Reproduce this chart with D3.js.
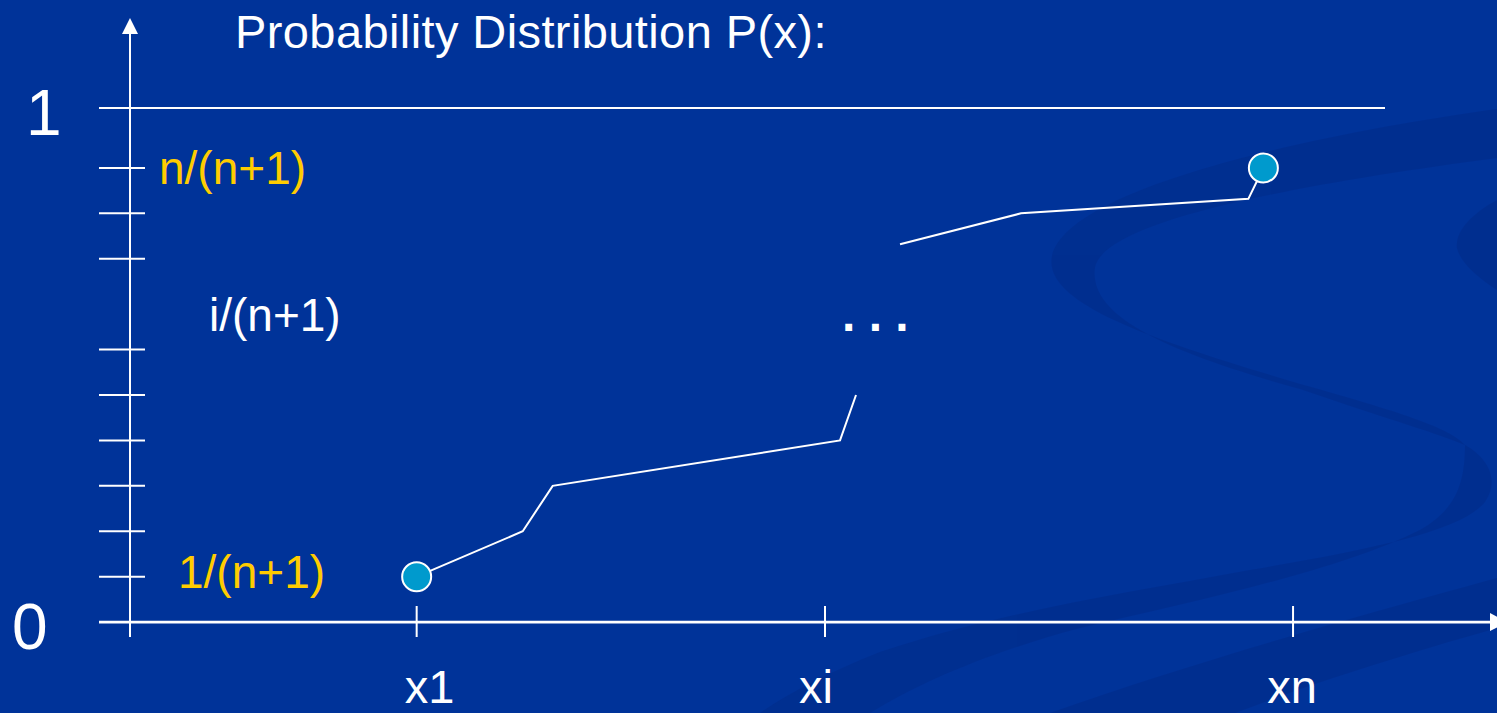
<!DOCTYPE html>
<html>
<head>
<meta charset="utf-8">
<script src="https://cdn.jsdelivr.net/npm/d3@7/dist/d3.min.js"></script>
<style>
  html, body { margin: 0; padding: 0; background: #003399; overflow: hidden; }
  svg { display: block; }
  text { font-family: "Liberation Sans", Arial, sans-serif; }
</style>
</head>
<body>
<svg id="chart" width="1497" height="713"></svg>
<script>
// Levels are measured in steps of 1/(n+1); the "1" line sits a little above the last step.
const yTickLevels = [1, 2, 3, 4, 5, 6, 8, 9, 10];
const oneLevel = 11.32;

// Sample positions along the x axis (arbitrary units)
const xTickNames  = ["x1", "xi", "xn"];
const xTickValues = [2.097, 5.084, 8.508];
const xLabelShift = [13, -9, -1];

// Empirical CDF sketch: lower run of the curve and the upper run
const lowerX = [2.097, 2.873, 3.092, 5.194, 5.311];
const lowerP = [1, 2, 3, 4, 5];
const upperX = [5.633, 6.518, 8.181, 8.291];
const upperP = [8.32, 9, 9.32, 10];

// Labels on the y side
const yLabels = [
  { text: "n/(n+1)", level: 10, color: "#FFCC00", x: 159, dy: 16 },
  { text: "i/(n+1)", level: 7,  color: "#FFFFFF", x: 209, dy: 27 },
  { text: "1/(n+1)", level: 1,  color: "#FFCC00", x: 178, dy: 11 }
];
const titleText = "Probability Distribution P(x):";

const svg = d3.select("#chart");

const x = d3.scaleLinear().domain([0, 10]).range([130, 1497]);
const y = d3.scaleLinear().domain([0, oneLevel]).range([622.1, 108]);

// Background ribbon decoration
const deco = svg.append("g").attr("fill", "#002B87").attr("opacity", 0.5);
deco.append("path").attr("d",
  "M1497,109 C1330,132 1068,185 1052,256 C1042,305 1160,342 1300,384 " +
  "C1400,412 1450,428 1465,445 C1440,434 1390,420 1300,389 " +
  "C1160,350 1088,315 1095,267 C1105,220 1300,184 1497,158 Z");
deco.append("path").attr("d",
  "M1465,445 C1488,458 1500,480 1485,502 C1462,530 1380,548 1250,570 " +
  "C1120,594 1000,612 880,652 C830,672 790,692 760,713 L870,713 " +
  "C920,682 990,652 1080,628 C1200,600 1340,570 1420,530 " +
  "C1455,510 1465,485 1465,445 Z");
deco.append("path").attr("d",
  "M1497,578 C1380,610 1200,660 1050,713 L1235,713 C1320,680 1420,650 1497,628 Z");
deco.append("path").attr("d",
  "M1497,200 C1470,215 1455,232 1457,248 C1460,262 1478,278 1497,290 Z");

const white = "#FFFFFF";

// Line at probability 1
svg.append("line")
  .attr("x1", 99).attr("x2", 1385)
  .attr("y1", y(oneLevel)).attr("y2", y(oneLevel))
  .attr("stroke", white).attr("stroke-width", 2);

// y axis with arrow head
svg.append("line")
  .attr("x1", x(0)).attr("x2", x(0))
  .attr("y1", 637).attr("y2", 30)
  .attr("stroke", white).attr("stroke-width", 2);
svg.append("path")
  .attr("d", d3.line()([[x(0), 18], [x(0) - 8, 34], [x(0) + 8, 34]]) + "Z")
  .attr("fill", white);

// x axis with arrow head
svg.append("line")
  .attr("x1", 99).attr("x2", 1492)
  .attr("y1", y(0)).attr("y2", y(0))
  .attr("stroke", white).attr("stroke-width", 2.6);
svg.append("path")
  .attr("d", d3.line()([[1507, y(0)], [1490, y(0) - 9], [1490, y(0) + 9]]) + "Z")
  .attr("fill", white);

// y tick marks
svg.append("g").selectAll("line")
  .data(yTickLevels)
  .join("line")
  .attr("x1", 99).attr("x2", 145)
  .attr("y1", d => y(d)).attr("y2", d => y(d))
  .attr("stroke", white).attr("stroke-width", 2);

// x tick marks
svg.append("g").selectAll("line")
  .data(xTickValues)
  .join("line")
  .attr("x1", d => x(d)).attr("x2", d => x(d))
  .attr("y1", 606).attr("y2", 637)
  .attr("stroke", white).attr("stroke-width", 2);

// x tick labels
svg.append("g").selectAll("text")
  .data(xTickNames)
  .join("text")
  .attr("x", (d, i) => x(xTickValues[i]) + xLabelShift[i])
  .attr("y", 703)
  .attr("text-anchor", "middle")
  .attr("font-size", 47)
  .attr("fill", white)
  .text(d => d);

// "0" and "1" on the y side
svg.append("text").attr("x", 12).attr("y", 649)
  .attr("font-size", 64).attr("fill", white).text("0");
svg.append("text").attr("x", 26).attr("y", 135)
  .attr("font-size", 64).attr("fill", white).text("1");

// Fractional level labels
svg.append("g").selectAll("text")
  .data(yLabels)
  .join("text")
  .attr("x", d => d.x)
  .attr("y", d => y(d.level) + d.dy)
  .attr("font-size", 46)
  .attr("fill", d => d.color)
  .text(d => d.text);

// Title
svg.append("text")
  .attr("x", 235).attr("y", 48)
  .attr("font-size", 47)
  .attr("letter-spacing", 0.4)
  .attr("fill", white)
  .text(titleText);

// Ellipsis between the two runs of the curve
svg.append("text")
  .attr("x", 842).attr("y", 331)
  .attr("font-size", 48)
  .attr("font-weight", "bold")
  .attr("fill", white)
  .text(". . .");

// Curve runs
const lineGen = d3.line().x(d => x(d[0])).y(d => y(d[1]));
const lowerPts = lowerX.map((v, i) => [v, lowerP[i]]);
const upperPts = upperX.map((v, i) => [v, upperP[i]]);
svg.append("path").attr("d", lineGen(lowerPts))
  .attr("fill", "none").attr("stroke", white).attr("stroke-width", 2);
svg.append("path").attr("d", lineGen(upperPts))
  .attr("fill", "none").attr("stroke", white).attr("stroke-width", 2);

// End points of the distribution
const ends = [lowerPts[0], upperPts[upperPts.length - 1]];
svg.append("g").selectAll("circle")
  .data(ends)
  .join("circle")
  .attr("cx", d => x(d[0]))
  .attr("cy", d => y(d[1]))
  .attr("r", 14.5)
  .attr("fill", "#009ACD")
  .attr("stroke", white)
  .attr("stroke-width", 2);
</script>
</body>
</html>
